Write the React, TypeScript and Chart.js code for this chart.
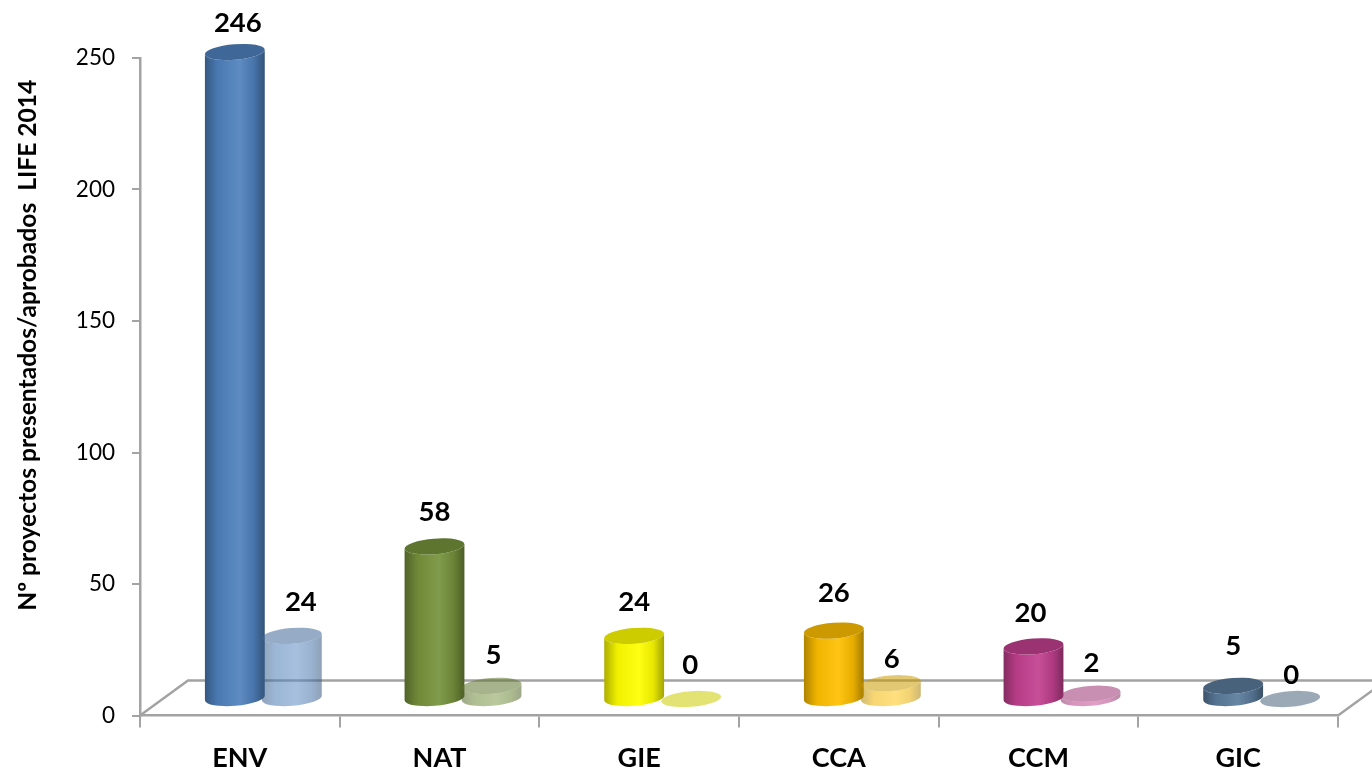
import React, { useEffect, useRef } from "react";
import { Chart, registerables } from "chart.js";

Chart.register(...registerables);

const categories = ["ENV", "NAT", "GIE", "CCA", "CCM", "GIC"];
const presentados = [246, 58, 24, 26, 20, 5];
const aprobados = [24, 5, 0, 6, 2, 0];
const seriesNames = ["Presentados", "Aprobados"];
const categoryColors = ["#4F81BD", "#76923C", "#FFFF00", "#FFC000", "#C2408F", "#5A7B9B"];
const yAxisTitle = "Nº proyectos presentados/aprobados  LIFE 2014";
const yTickStep = 50;
const yMax = 250;

const FONT = "Lato, 'Open Sans', sans-serif";
const AXIS_GRAY = "#a3a3a3";

// 3-D projection of the chart floor
const DEPTH_X = 23.5;
const DEPTH_Y = -16.5;
const FLOOR_DX = 48;
const FLOOR_DY = -35;
const ELLIPSE_RY = 7.8;
const ELLIPSE_ROT = (-4.5 * Math.PI) / 180;
const TITLE_X = 28;
const TITLE_SHIFT_Y = -41.5;

// hand-placed value labels of the reference, relative to the top of each cylinder
const labelNudgeMain = [[3, -29], [0, -34], [0, -34], [0, -37], [-3, -33], [0, -40]];
const labelNudgeLight = [[9, -34], [2, -31], [-1, -34], [1, -24], [1, -31], [1, -24]];

function shade(hex: string, f: number) {
  const n = parseInt(hex.slice(1), 16);
  const ch = [(n >> 16) & 255, (n >> 8) & 255, n & 255].map((v) =>
    Math.max(0, Math.min(255, Math.round(f >= 1 ? v + (255 - v) * (f - 1) : v * f)))
  );
  return `rgb(${ch[0]},${ch[1]},${ch[2]})`;
}

function drawCylinder(ctx: CanvasRenderingContext2D, x: number, top: number, base: number, width: number, color: string, alpha: number) {
  const rx = width / 2;
  ctx.save();
  ctx.globalAlpha = alpha;
  const g = ctx.createLinearGradient(x - rx, 0, x + rx, 0);
  g.addColorStop(0, shade(color, 0.68));
  g.addColorStop(0.22, shade(color, 0.94));
  g.addColorStop(0.58, shade(color, 1.08));
  g.addColorStop(0.82, shade(color, 0.9));
  g.addColorStop(1, shade(color, 0.64));
  ctx.fillStyle = g;
  ctx.beginPath();
  ctx.ellipse(x, base, rx, ELLIPSE_RY, ELLIPSE_ROT, Math.PI, 0, true);
  ctx.ellipse(x, top, rx, ELLIPSE_RY, ELLIPSE_ROT, 0, Math.PI, false);
  ctx.closePath();
  ctx.fill();
  ctx.fillStyle = shade(color, 0.8);
  ctx.beginPath();
  ctx.ellipse(x, top, rx, ELLIPSE_RY, ELLIPSE_ROT, 0, Math.PI * 2);
  ctx.fill();
  ctx.restore();
}

const floorPlugin = {
  id: "floor",
  beforeDatasetsDraw(chart: any) {
    const { ctx, chartArea: a, width } = chart;
    ctx.save();
    ctx.strokeStyle = AXIS_GRAY;
    ctx.lineWidth = 2.5;
    ctx.beginPath();
    ctx.moveTo(a.left, a.bottom);
    ctx.lineTo(a.left + FLOOR_DX, a.bottom + FLOOR_DY);
    ctx.lineTo(width, a.bottom + FLOOR_DY);
    ctx.moveTo(a.right, a.bottom);
    ctx.lineTo(a.right + FLOOR_DX, a.bottom + FLOOR_DY);
    ctx.stroke();
    ctx.restore();
    // axis title, centred above the middle of the axis as in the reference
    ctx.save();
    ctx.translate(TITLE_X, (a.top + a.bottom) / 2 + TITLE_SHIFT_Y);
    ctx.rotate(-Math.PI / 2);
    ctx.fillStyle = "#000";
    ctx.font = `bold 24.6px ${FONT}`;
    ctx.textAlign = "center";
    ctx.textBaseline = "middle";
    ctx.fillText(yAxisTitle, 0, 0);
    ctx.restore();
  },
};

const cylinderPlugin = {
  id: "cylinders",
  afterDatasetsDraw(chart: any) {
    const { ctx } = chart;
    const alphas = [1, 0.55];
    const nudges = [labelNudgeMain, labelNudgeLight];
    [0, 1].forEach((d) => {
      chart.getDatasetMeta(d).data.forEach((bar: any, i: number) => {
        const p = bar.getProps(["x", "y", "base", "width"], true);
        drawCylinder(ctx, p.x + DEPTH_X, p.y + DEPTH_Y, p.base + DEPTH_Y, p.width, categoryColors[i], alphas[d]);
      });
    });
    ctx.save();
    ctx.fillStyle = "#000";
    ctx.font = `bold 27.5px ${FONT}`;
    ctx.textAlign = "center";
    ctx.textBaseline = "middle";
    [0, 1].forEach((d) => {
      chart.getDatasetMeta(d).data.forEach((bar: any, i: number) => {
        const p = bar.getProps(["x", "y"], true);
        const v = chart.data.datasets[d].data[i];
        ctx.fillText(String(v), p.x + DEPTH_X + nudges[d][i][0], p.y + DEPTH_Y + nudges[d][i][1]);
      });
    });
    ctx.restore();
  },
};

export default function App() {
  const ref = useRef<HTMLCanvasElement>(null);
  useEffect(() => {
    const chart = new Chart(ref.current!, {
      type: "bar",
      data: {
        labels: categories,
        datasets: [
          { label: seriesNames[0], data: presentados, backgroundColor: "transparent" },
          { label: seriesNames[1], data: aprobados, backgroundColor: "transparent" },
        ],
      },
      options: {
        responsive: false,
        animation: false,
        categoryPercentage: 0.571,
        barPercentage: 1.053,
        layout: { padding: { top: 58, right: 34, left: 0, bottom: 0 } },
        plugins: { legend: { display: false }, tooltip: { enabled: false } },
        scales: {
          x: {
            afterFit: (s: any) => { s.height = 57.5; },
            border: { color: AXIS_GRAY, width: 2.5 },
            grid: { color: AXIS_GRAY, lineWidth: 2, drawOnChartArea: false, tickLength: 12 },
            ticks: { color: "#000", padding: 15, font: { family: FONT, size: 27, weight: "bold" } },
          },
          y: {
            min: 0,
            max: yMax,
            afterFit: (s: any) => { s.width = 140; },
            border: { color: AXIS_GRAY, width: 2.5 },
            grid: { color: AXIS_GRAY, lineWidth: 2, drawOnChartArea: false, tickLength: 8 },
            ticks: { stepSize: yTickStep, color: "#000", padding: 17, font: { family: FONT, size: 22.5 } },
          },
        },
      } as any,
      plugins: [floorPlugin, cylinderPlugin],
    });
    return () => chart.destroy();
  }, []);
  return (
    <div style={{ position: "fixed", left: 0, top: 0, width: 1372, height: 773, background: "#fff", overflow: "hidden" }}>
      <canvas ref={ref} width={1372} height={773} style={{ display: "block" }} />
    </div>
  );
}
